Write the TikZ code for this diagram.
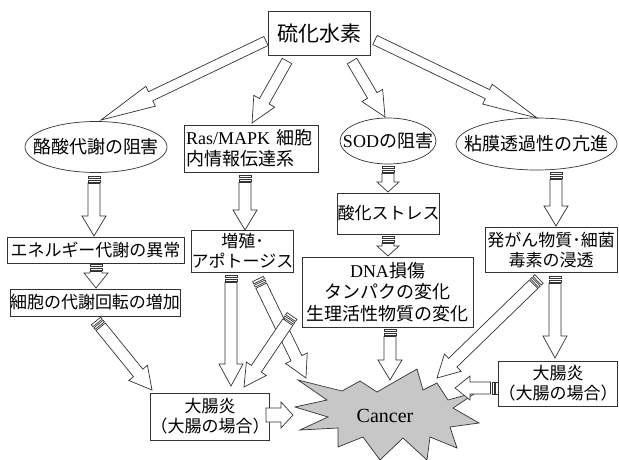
\documentclass[tikz,border=0pt]{standalone}
\usepackage{fontspec}
\setmainfont{Liberation Serif}
\newfontfamily\jp{Noto Sans CJK JP}
\newfontfamily\lat{Liberation Serif}
\usetikzlibrary{calc,shapes.geometric}

\tikzset{
 ln/.style={draw=black!80, line width=0.7pt},
 arrowbody/.style={ln, fill=white, line join=miter},
 jbox/.style={ln, rectangle, inner sep=0pt, align=center, font=\jp\fontsize{17}{20}\selectfont},
 jtext/.style={inner sep=0pt, align=center, font=\jp\fontsize{18}{21}\selectfont},
 burst/.style={ln, fill=black!22, line join=miter},
}

\newcommand\blockarr[5]{%
 \draw[arrowbody] ($(#1)!#3!90:(#2)$) -- ($(#2)!#5!(#1)!#3!-90:(#1)$) -- ($(#2)!#5!(#1)!#4!-90:(#1)$) -- (#2) -- ($(#2)!#5!(#1)!#4!90:(#1)$) -- ($(#2)!#5!(#1)!#3!90:(#1)$) -- ($(#1)!#3!-90:(#2)$) -- cycle;}

\newcommand\stripearr[5]{%
 \draw[arrowbody] ($(#1)!#3!90:(#2)$) -- ($(#1)!2.5pt!(#2)!#3!90:(#2)$) -- ($(#1)!2.5pt!(#2)!#3!-90:(#2)$) -- ($(#1)!#3!-90:(#2)$) -- cycle;
 \draw[arrowbody] ($(#1)!4pt!(#2)!#3!90:(#2)$) -- ($(#1)!6pt!(#2)!#3!90:(#2)$) -- ($(#1)!6pt!(#2)!#3!-90:(#2)$) -- ($(#1)!4pt!(#2)!#3!-90:(#2)$) -- cycle;
 \coordinate (st) at ($(#1)!7.5pt!(#2)$);
 \blockarr{st}{#2}{#3}{#4}{#5}}

\begin{document}
\begin{tikzpicture}[x=1pt,y=-1pt]
\useasboundingbox (0,0) rectangle (619,460);

% nodes
\node[jbox, minimum width=102, minimum height=44, font=\jp\fontsize{21}{24}\selectfont] (h2s) at (319,33.5) {硫化水素};
\node[jtext] (rak) at (96,147) {酪酸代謝の阻害};
\draw[ln] (rak.center) ellipse [x radius=71, y radius=25.5];
\node[jbox, minimum width=134, minimum height=47, text width=130, align=left, font=\jp\fontsize{18}{21}\selectfont] (ras) at (251,148.5) {{\lat Ras/MAPK} 細胞\\内情報伝達系};
\node[jtext] (sod) at (388,141) {{\lat SOD}の阻害};
\draw[ln] (sod.center) ellipse [x radius=48, y radius=23];
\node[jtext] (nen) at (536.5,144) {粘膜透過性の亢進};
\draw[ln] (nen.center) ellipse [x radius=80.5, y radius=26];
\node[jbox, minimum width=99, minimum height=41] (san) at (388.5,213.5) {酸化ストレス};
\node[jbox, minimum width=177, minimum height=26] (ene) at (95.5,250) {エネルギー代謝の異常};
\node[jbox, minimum width=170, minimum height=27] (sai) at (95,302.5) {細胞の代謝回転の増加};
\node[jbox, minimum width=91, minimum height=42] (zou) at (242.5,251) {増殖･\\アポトージス};
\node[jbox, minimum width=171, minimum height=70, font=\jp\fontsize{18}{21.5}\selectfont] (dna) at (387.5,292) {{\lat DNA}損傷\\タンパクの変化\\生理活性物質の変化};
\node[jbox, minimum width=132, minimum height=45] (hat) at (551,249.5) {発がん物質･細菌\\毒素の浸透};
\node[jbox, minimum width=112, minimum height=47] (dL) at (210,416.5) {大腸炎\\（大腸の場合）};
\node[jbox, minimum width=118, minimum height=45] (dR) at (558,383.5) {大腸炎\\（大腸の場合）};

% cancer burst
\draw[burst] (298,380) -- (342,391) -- (360,381) -- (377,392) -- (417,369) -- (423,390) -- (437,383) -- (448,400) -- (477,392) -- (453,408) -- (479,423) -- (450,427) -- (457,448) -- (430,437) -- (427,460) -- (403,438) -- (380,460) -- (363,437) -- (338,447) -- (338,428) -- (300,430) -- (328,417) -- (295,407) -- (327,400) -- cycle;
\node[font=\lat\fontsize{20}{24}\selectfont, inner sep=0pt] (cancer) at (385,416) {Cancer};

% connector end points
\coordinate (a1t) at (266,41);  \coordinate (a1h) at (101,120);
\coordinate (a2t) at (287,61);  \coordinate (a2h) at (252,123);
\coordinate (a3t) at (352,61);  \coordinate (a3h) at (385,117);
\coordinate (a4t) at (375,40);  \coordinate (a4h) at (537,118);

\coordinate (s1t) at (94,176);  \coordinate (s1h) at (94,236);
\coordinate (s2t) at (96,264);  \coordinate (s2h) at (96,288);
\coordinate (s3t) at (245,175); \coordinate (s3h) at (245,230);
\coordinate (s4t) at (388,166); \coordinate (s4h) at (388,192);
\coordinate (s5t) at (388,236); \coordinate (s5h) at (388,256);
\coordinate (s6t) at (556,172); \coordinate (s6h) at (556,226);
\coordinate (s7t) at (96,321);  \coordinate (s7h) at (152,390);
\coordinate (s8t) at (231,275); \coordinate (s8h) at (231,386);
\coordinate (s9t) at (258,279); \coordinate (s9h) at (306,378);
\coordinate (s10t) at (292,316); \coordinate (s10h) at (244,387);
\coordinate (s11t) at (390,329); \coordinate (s11h) at (390,380);
\coordinate (s12t) at (539,279); \coordinate (s12h) at (437,378);
\coordinate (s13t) at (555,276); \coordinate (s13h) at (555,358);
\coordinate (s14t) at (498,388); \coordinate (s14h) at (455,388);
\coordinate (pt) at (266,415);   \coordinate (ph) at (293,415);

% block arrows from H2S
\blockarr{a1t}{a1h}{5pt}{11pt}{55pt}
\blockarr{a2t}{a2h}{5.5pt}{12pt}{25pt}
\blockarr{a3t}{a3h}{5.5pt}{12pt}{25pt}
\blockarr{a4t}{a4h}{5pt}{11pt}{55pt}

% striped arrows
\stripearr{s1t}{s1h}{6pt}{12pt}{20pt}
\stripearr{s2t}{s2h}{6pt}{12pt}{15pt}
\stripearr{s3t}{s3h}{6pt}{12pt}{20pt}
\stripearr{s4t}{s4h}{6pt}{11pt}{10pt}
\stripearr{s5t}{s5h}{6pt}{11pt}{10pt}
\stripearr{s6t}{s6h}{6pt}{12pt}{20pt}
\stripearr{s7t}{s7h}{6pt}{12pt}{22pt}
\stripearr{s8t}{s8h}{6pt}{12pt}{22pt}
\stripearr{s9t}{s9h}{6pt}{12pt}{22pt}
\stripearr{s10t}{s10h}{6pt}{12pt}{22pt}
\stripearr{s11t}{s11h}{6pt}{12pt}{20pt}
\stripearr{s12t}{s12h}{6pt}{12pt}{22pt}
\stripearr{s13t}{s13h}{6pt}{12pt}{22pt}
\stripearr{s14t}{s14h}{6pt}{12pt}{15pt}
\blockarr{pt}{ph}{7pt}{13pt}{12pt}
\end{tikzpicture}
\end{document}
